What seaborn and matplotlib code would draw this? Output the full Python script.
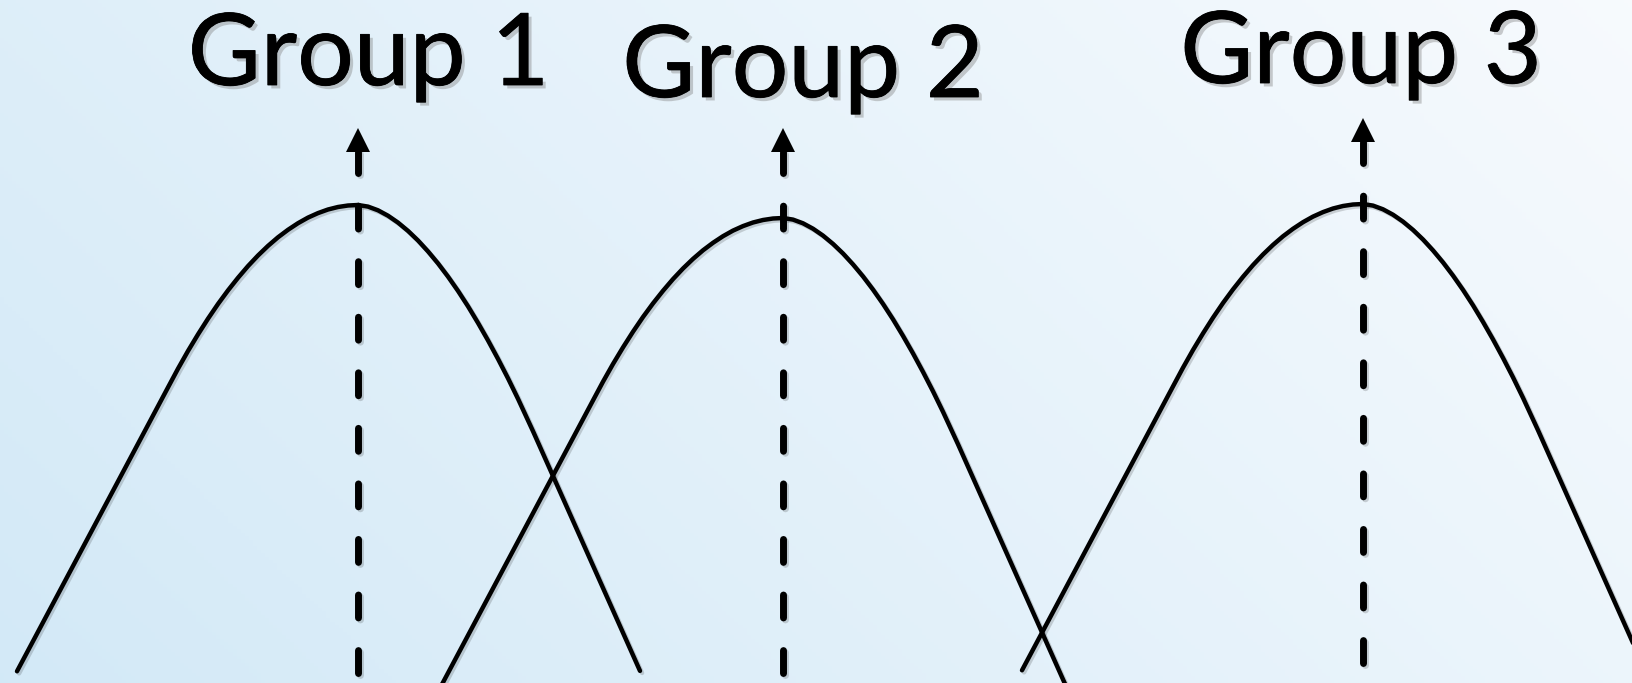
import numpy as np
import pandas as pd
import matplotlib
matplotlib.use("Agg")
import matplotlib.pyplot as plt
import matplotlib.patheffects as pe
import seaborn as sns

# The three bells are the same hand-drawn shape, shifted.
# Shape: offset from the peak and drop below the peak.
shape_dx = [-34.1, -30.0, -26.0, -22.0, -19.0, -18.0, -17.0, -16.0, -15.0, -14.0,
            -13.0, -12.0, -11.0, -10.0, -9.0, -8.0, -7.0, -6.0, -5.0, -4.0,
            -3.0, -2.0, -1.0, 0.0, 1.0, 2.0, 3.0, 4.0, 5.0, 6.0,
            7.0, 8.0, 9.0, 10.0, 11.0, 12.0, 13.0, 14.0, 15.0, 16.0,
            17.5, 21.0, 25.0, 28.2]
shape_drop = [46.63, 38.92, 31.40, 23.88, 18.24, 16.37, 14.60, 12.94, 11.37, 9.90,
              8.54, 7.28, 6.11, 5.05, 4.09, 3.23, 2.48, 1.82, 1.26, 0.81,
              0.45, 0.20, 0.05, 0.0, 0.16, 0.53, 1.07, 1.76, 2.59, 3.55,
              4.64, 5.84, 7.16, 8.59, 10.13, 11.79, 13.54, 15.39, 17.33, 19.38,
              22.62, 30.46, 39.42, 46.59]

group_labels = ["Group 1", "Group 2", "Group 3"]
group_means = [35.8, 78.3, 136.3]
group_peaks = [47.8, 46.5, 47.9]
arrow_bottom = [1.0, 1.0, 2.0]
arrow_tip = [55.5, 55.5, 56.5]
label_x = [36.85, 80.3, 136.1]
label_y = [59.8, 58.6, 60.0]

rows = []
for name, m, p in zip(group_labels, group_means, group_peaks):
    rows.append(pd.DataFrame({"x": [m + d for d in shape_dx],
                              "y": [p - h for h in shape_drop],
                              "group": name}))
df = pd.concat(rows, ignore_index=True)

sns.set_theme(style="white")
plt.rcParams["font.family"] = ["Lato", "DejaVu Sans"]

fig = plt.figure(figsize=(16.32, 6.83), dpi=100)
ax = fig.add_axes([0, 0, 1, 1])
ax.set_xlim(0, 163.2)
ax.set_ylim(0, 68.3)
ax.axis("off")

# light blue -> white background
xx, yy = np.meshgrid(np.linspace(0, 1, 400), np.linspace(0, 1, 200))
t = np.clip(0.7 * xx + 0.3 * yy, 0, 1)
c0 = np.array([0.827, 0.914, 0.969])
c1 = np.array([0.969, 0.982, 0.994])
bg = c0[None, None, :] * (1 - t[..., None]) + c1[None, None, :] * t[..., None]
ax.imshow(bg, extent=[0, 163.2, 0, 68.3], origin="lower", aspect="auto", zorder=0)

shadow = [pe.SimpleLineShadow(offset=(1.5, -1.5), alpha=0.18), pe.Normal()]

sns.lineplot(data=df, x="x", y="y", hue="group", units="group", estimator=None,
             palette=["black"] * 3, linewidth=3.2, legend=False, sort=False, ax=ax, zorder=3)
for line in ax.get_lines():
    line.set_path_effects(shadow)
    line.set_solid_capstyle("round")
    line.set_solid_joinstyle("round")

for i in range(3):
    head_len = 2.4
    ax.plot([group_means[i], group_means[i]], [arrow_bottom[i], arrow_tip[i] - head_len],
            color="black", lw=5, dashes=(3.3, 4.7), dash_capstyle="round", zorder=4,
            path_effects=shadow)
    ax.plot([group_means[i]], [arrow_tip[i] - head_len / 2], marker="^", ms=17,
            color="black", mec="black", mew=0, zorder=4)
    ax.text(label_x[i], label_y[i], group_labels[i], fontsize=72, ha="center", va="baseline",
            color="black", zorder=5,
            path_effects=[pe.SimplePatchShadow(offset=(2.5, -2.5), shadow_rgbFace="gray", alpha=0.4),
                          pe.Stroke(linewidth=0.6, foreground="black"), pe.Normal()])

fig.savefig("out.png", dpi=100)
